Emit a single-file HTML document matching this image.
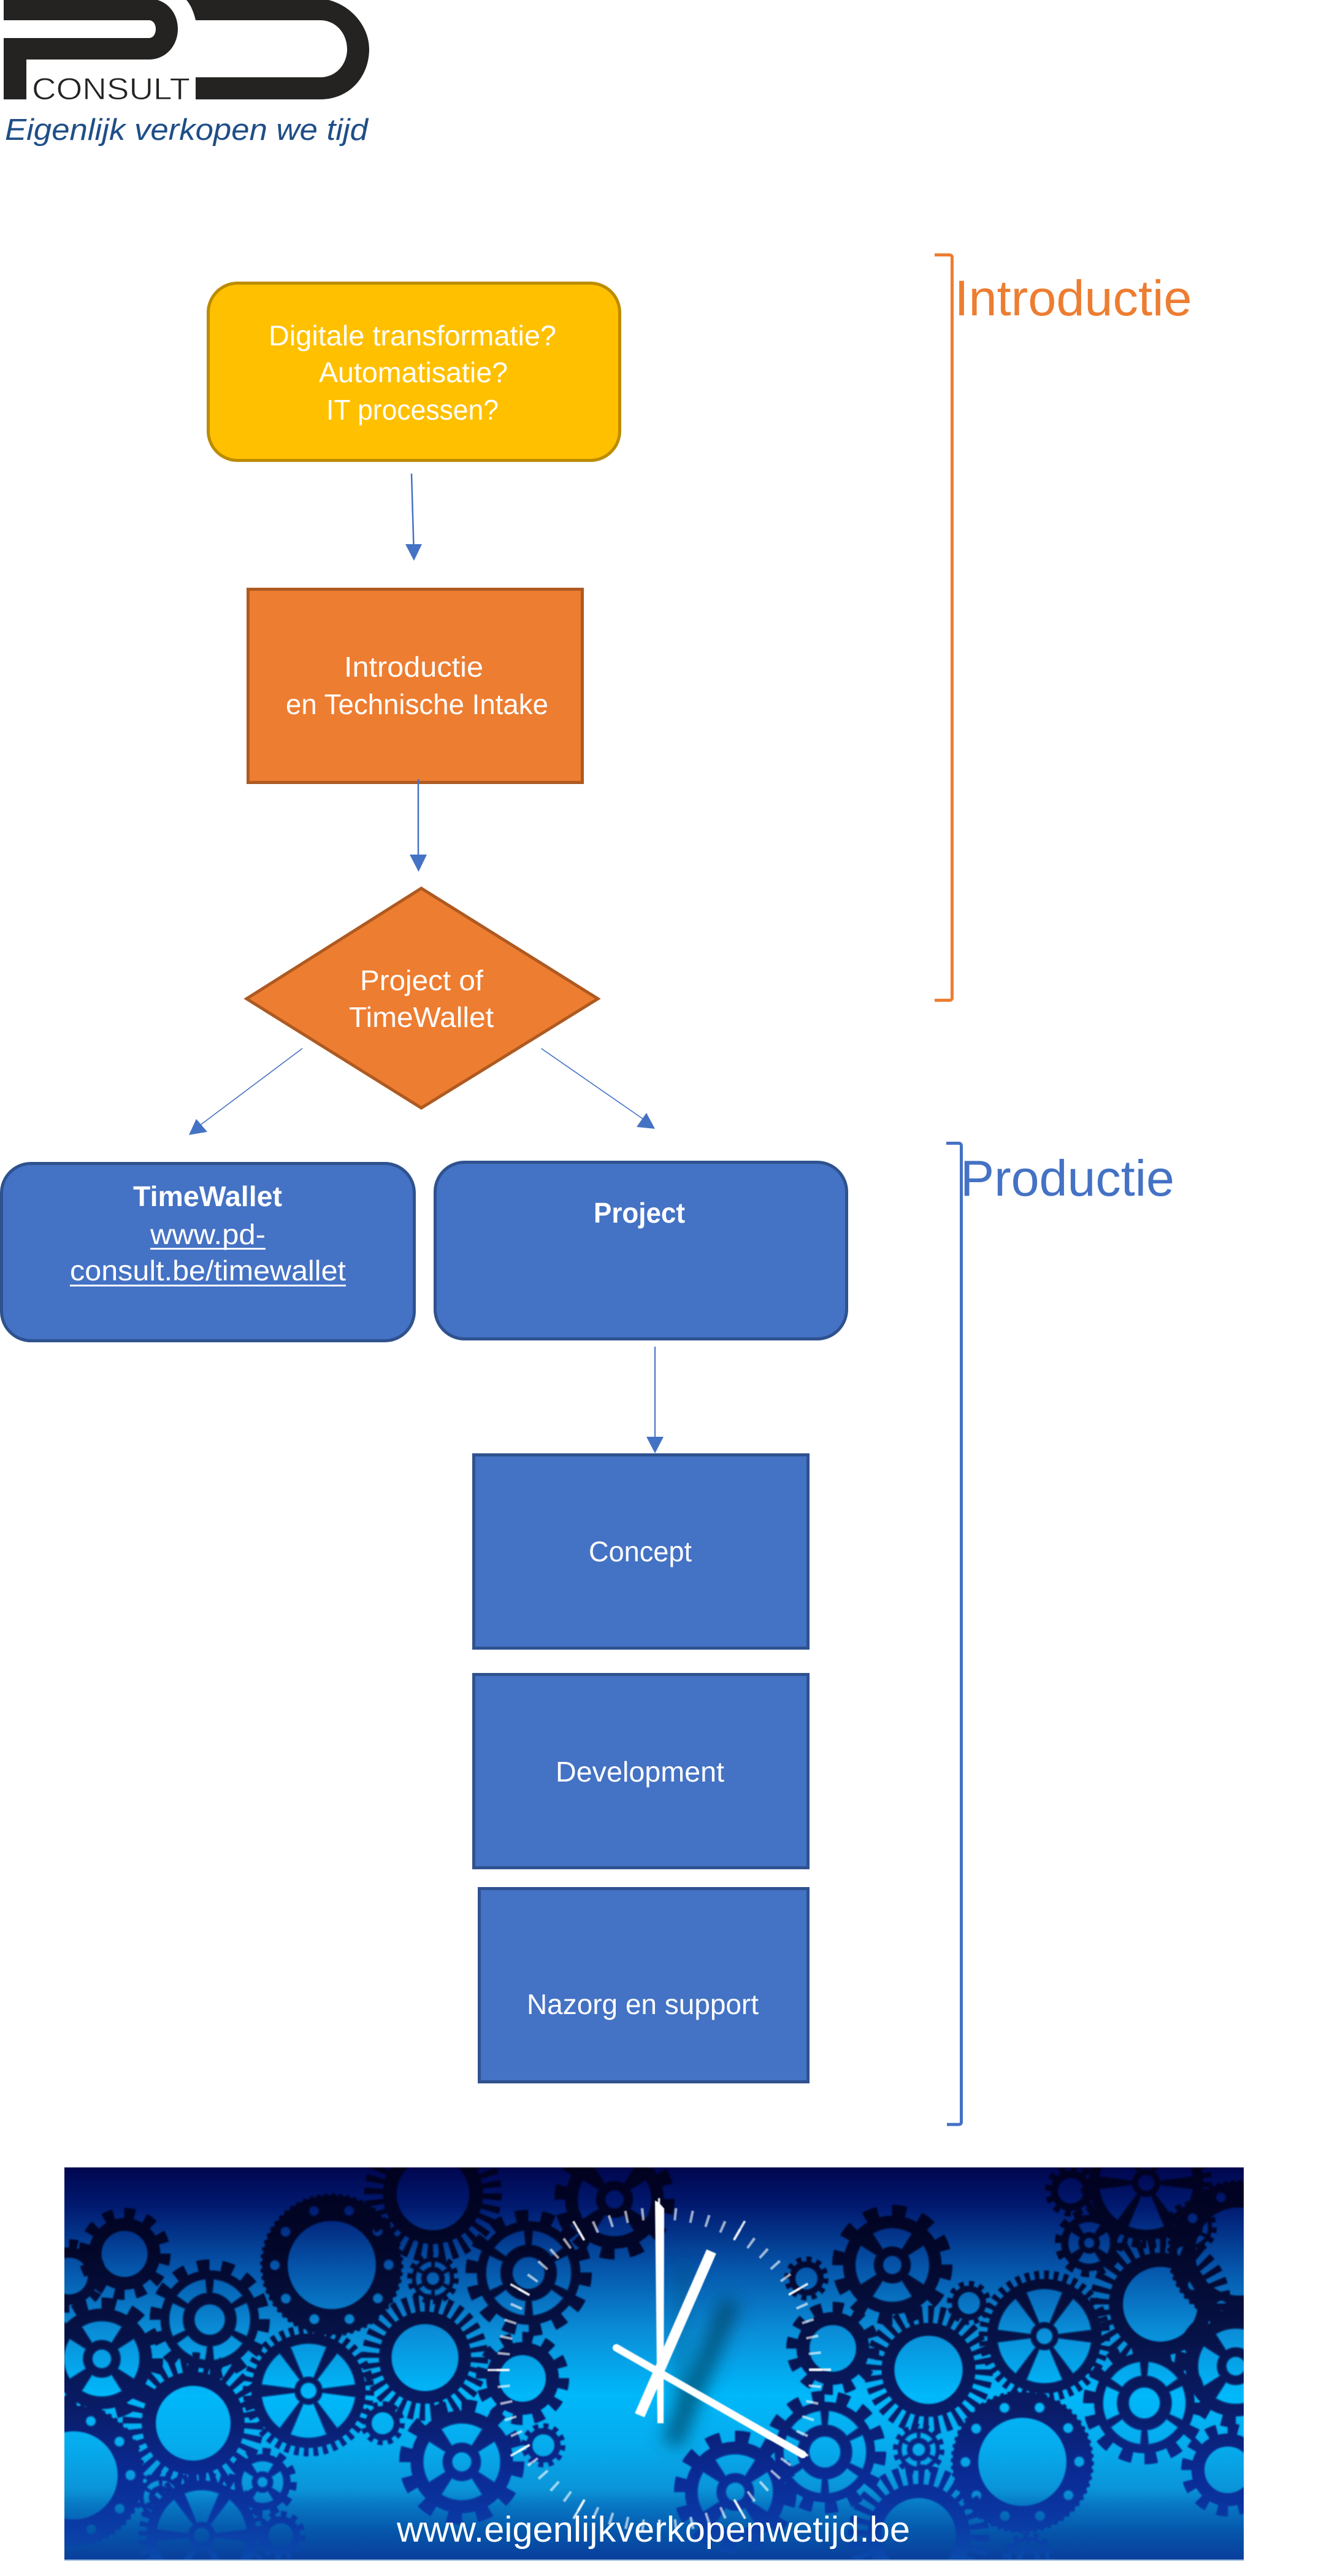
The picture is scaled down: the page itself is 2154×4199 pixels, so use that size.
<!DOCTYPE html>
<html lang="nl">
<head>
<meta charset="utf-8">
<title>PD Consult</title>
<style>
html,body{margin:0;padding:0;background:#fff;width:2154px;height:4199px;overflow:hidden}
svg{display:block}
text{font-family:"Liberation Sans",Arial,sans-serif}
.n{fill:#fff;font-size:46px}
</style>
</head>
<body>
<svg xmlns="http://www.w3.org/2000/svg" width="2154" height="4199" viewBox="0 0 2154 4199">
<defs>
  <linearGradient id="bg" gradientUnits="userSpaceOnUse" x1="0" y1="3533" x2="0" y2="4173">
    <stop offset="0" stop-color="#00064f"/>
    <stop offset=".1" stop-color="#011a70"/>
    <stop offset=".25" stop-color="#0553a8"/>
    <stop offset=".42" stop-color="#0a8ed8"/>
    <stop offset=".58" stop-color="#00b8fa"/>
    <stop offset=".72" stop-color="#06aaec"/>
    <stop offset=".82" stop-color="#0a94d8"/>
    <stop offset=".86" stop-color="#0777c4"/>
    <stop offset=".93" stop-color="#0555aa"/>
    <stop offset="1" stop-color="#0a3e9c"/>
  </linearGradient>
  <linearGradient id="gc" gradientUnits="userSpaceOnUse" x1="0" y1="3533" x2="0" y2="4173">
    <stop offset="0" stop-color="#01011f"/>
    <stop offset=".2" stop-color="#020628"/>
    <stop offset=".42" stop-color="#061246"/>
    <stop offset=".62" stop-color="#0a1c68"/>
    <stop offset=".78" stop-color="#0a2a94"/>
    <stop offset=".88" stop-color="#0a36a2"/>
    <stop offset="1" stop-color="#0b4aac"/>
  </linearGradient>
  <filter id="b1" x="-5%" y="-5%" width="110%" height="110%"><feGaussianBlur stdDeviation="1"/></filter>
  <filter id="b2" x="-60%" y="-60%" width="220%" height="220%"><feGaussianBlur stdDeviation="14"/></filter>
  <filter id="b3" x="-5%" y="-5%" width="110%" height="110%"><feGaussianBlur stdDeviation=".7"/></filter>

  <g id="gA" fill="none" stroke="#fff">
    <circle r="64" stroke-width="28"/>
    <circle r="88" stroke-width="24" pathLength="24" stroke-dasharray="1 1"/>
  </g>
  <g id="gL" fill="none" stroke="#fff">
    <circle r="63" stroke-width="20"/>
    <circle r="85" stroke-width="30" pathLength="64" stroke-dasharray="1 1"/>
  </g>
  <g id="gF" fill="none">
    <circle r="80" stroke="#fff" stroke-width="36"/>
    <circle r="98" stroke="#fff" stroke-width="5" pathLength="120" stroke-dasharray="1 1"/>
    <circle r="80" stroke="#000" stroke-width="15" stroke-linecap="round" pathLength="10" stroke-dasharray="0 1"/>
  </g>
  <g id="gS" fill="none">
    <circle r="41" stroke="#fff" stroke-width="82"/>
    <circle r="90" stroke="#fff" stroke-width="20" pathLength="28" stroke-dasharray="1 1"/>
    <circle r="56" stroke="#000" stroke-width="24" pathLength="6" stroke-dasharray=".82 .18" transform="rotate(-24.6)"/>
    <circle r="26" fill="#000"/>
  </g>
  <g id="gX" fill="none">
    <circle r="41" stroke="#fff" stroke-width="82"/>
    <circle r="90" stroke="#fff" stroke-width="20" pathLength="24" stroke-dasharray="1 1"/>
    <circle r="46" stroke="#000" stroke-width="32" pathLength="4" stroke-dasharray=".72 .28" transform="rotate(-32.4)"/>
    <circle r="16" fill="#000"/>
  </g>
  <g id="gP" fill="none">
    <circle r="44" stroke="#fff" stroke-width="88"/>
    <circle r="93" stroke="#fff" stroke-width="16" pathLength="80" stroke-dasharray="1 1"/>
    <circle r="47" stroke="#000" stroke-width="52" pathLength="6" stroke-dasharray=".76 .24" transform="rotate(7.2)"/>
    <circle r="13" fill="#000"/>
  </g>

  <mask id="gm" maskUnits="userSpaceOnUse" x="105" y="3533" width="1923" height="640">
    <rect x="105" y="3533" width="1923" height="640" fill="#000"/>
    <g filter="url(#b1)">
      <use href="#gA" transform="translate(203 3674) scale(.75)"/>
      <use href="#gF" transform="translate(541 3692) scale(1.16)"/>
      <use href="#gL" transform="translate(706 3576) scale(1.12)"/>
      <use href="#gS" transform="translate(706 3714) scale(.42)"/>
      <use href="#gS" transform="translate(342 3781) scale(.98)"/>
      <use href="#gX" transform="translate(1002 3585) scale(.98)"/>
      <use href="#gS" transform="translate(862 3705) scale(1.03)"/>
      <use href="#gX" transform="translate(166 3845) scale(1)"/>
      <use href="#gA" transform="translate(113 3710) scale(.6)"/>
      <use href="#gL" transform="translate(693 3843) scale(1.03)"/>
      <use href="#gL" transform="translate(315 3950) scale(1.15)"/>
      <use href="#gP" transform="translate(503 3897) scale(1.06)"/>
      <use href="#gA" transform="translate(852 3877) scale(.76)"/>
      <use href="#gA" transform="translate(624 3950) scale(.36)"/>
      <use href="#gX" transform="translate(753 4013) scale(1.02)"/>
      <use href="#gA" transform="translate(886 3986) scale(.36)"/>
      <use href="#gX" transform="translate(428 4046) scale(.56)"/>
      <use href="#gS" transform="translate(262 4071) scale(.42)"/>
      <use href="#gF" transform="translate(120 4035) scale(1.16)"/>
      <use href="#gP" transform="translate(329 4133) scale(1.02)"/>
      <use href="#gA" transform="translate(458 4133) scale(.4)"/>

      <use href="#gP" transform="translate(1869 3558) scale(1.06)"/>
      <use href="#gA" transform="translate(1746 3571) scale(.42)"/>
      <use href="#gX" transform="translate(1776 3656) scale(.56)"/>
      <use href="#gS" transform="translate(1942 3631) scale(.42)"/>
      <use href="#gF" transform="translate(2020 3670) scale(1.16)"/>
      <use href="#gX" transform="translate(1455 3692) scale(.98)"/>
      <use href="#gA" transform="translate(1315 3714) scale(.36)"/>
      <use href="#gA" transform="translate(1358 3828) scale(.76)"/>
      <use href="#gA" transform="translate(1580 3754) scale(.36)"/>
      <use href="#gL" transform="translate(1892 3756) scale(1.15)"/>
      <use href="#gL" transform="translate(1514 3863) scale(1.05)"/>
      <use href="#gP" transform="translate(1703 3808) scale(1.06)"/>
      <use href="#gX" transform="translate(2015 3857) scale(1)"/>
      <use href="#gS" transform="translate(1866 3917) scale(1)"/>
      <use href="#gA" transform="translate(2002 4026) scale(.76)"/>
      <use href="#gS" transform="translate(1345 3997) scale(1)"/>
      <use href="#gS" transform="translate(1498 3993) scale(.42)"/>
      <use href="#gF" transform="translate(1667 4013) scale(1.16)"/>
      <use href="#gX" transform="translate(1199 4062) scale(1)"/>
      <use href="#gL" transform="translate(1498 4133) scale(1.15)"/>
      <use href="#gS" transform="translate(1677 4170) scale(.42)"/>
    </g>
  </mask>
</defs>

<rect width="2154" height="4199" fill="#fff"/>

<!-- Logo -->
<path fill="#242321" d="M6 0H257C277 6 290 25 290 47C290 75 270 97 243 97H43V162H6V62H243C250 62 254 55 254 47C254 40 250 33 243 33H6Z"/>
<path fill="#242321" d="M304 0H536C575 10 602 45 602 80C602 125 570 162 522 162H319V126H522C548 126 566 105 566 80C566 55 548 33 522 33H319C316 20 311 8 304 0Z"/>
<text x="52" y="162" font-size="50" fill="#242321" stroke="#fff" stroke-width=".9" paint-order="fill" textLength="258" lengthAdjust="spacingAndGlyphs">CONSULT</text>
<text x="8" y="228" font-size="49" font-style="italic" fill="#1f4e87" textLength="592" lengthAdjust="spacingAndGlyphs">Eigenlijk verkopen we tijd</text>

<!-- Brackets and section labels -->
<path d="M1524 415.5H1548Q1552.5 415.5 1552.5 420V1626Q1552.5 1630.5 1548 1630.5H1524" fill="none" stroke="#ed7d31" stroke-width="5"/>
<text x="1556.5" y="514" font-size="82" fill="#ed7d31" textLength="387" lengthAdjust="spacingAndGlyphs">Introductie</text>
<path d="M1543 1863.5H1563Q1567.5 1863.5 1567.5 1868V3459Q1567.5 3463 1563 3463H1544" fill="none" stroke="#4472c4" stroke-width="5"/>
<text x="1566" y="1949" font-size="83" fill="#4472c4" textLength="349" lengthAdjust="spacingAndGlyphs">Productie</text>

<!-- Yellow start -->
<rect x="339.5" y="461.5" width="671" height="289" rx="48" ry="48" fill="#ffc000" stroke="#bc8c00" stroke-width="5"/>
<text class="n" x="438" y="563" textLength="469" lengthAdjust="spacingAndGlyphs">Digitale transformatie?</text>
<text class="n" x="520" y="623" textLength="308" lengthAdjust="spacingAndGlyphs">Automatisatie?</text>
<text class="n" x="532" y="684" textLength="281" lengthAdjust="spacingAndGlyphs">IT processen?</text>

<!-- Arrow 1 -->
<line x1="671" y1="772" x2="674.5" y2="890" stroke="#4472c4" stroke-width="2.5"/>
<polygon points="661,887 688,887 675,914" fill="#4472c4"/>

<!-- Orange rectangle -->
<rect x="404.5" y="960.5" width="545" height="315" fill="#ed7d31" stroke="#ae5a21" stroke-width="5"/>
<text class="n" x="561" y="1103" textLength="227" lengthAdjust="spacingAndGlyphs">Introductie</text>
<text class="n" x="466" y="1164" textLength="428" lengthAdjust="spacingAndGlyphs">en Technische Intake</text>

<!-- Arrow 2 -->
<line x1="682" y1="1270" x2="682" y2="1396" stroke="#4472c4" stroke-width="2.5"/>
<polygon points="668,1393 696,1393 682.5,1421" fill="#4472c4"/>

<!-- Diamond -->
<polygon points="687,1448 975,1628 687,1806 402,1628" fill="#ed7d31" stroke="#ae5a21" stroke-width="5" stroke-linejoin="miter"/>
<text class="n" x="587" y="1614" textLength="201" lengthAdjust="spacingAndGlyphs">Project of</text>
<text class="n" x="569" y="1674" textLength="236" lengthAdjust="spacingAndGlyphs">TimeWallet</text>

<!-- Diamond arrows -->
<line x1="493" y1="1709" x2="325" y2="1835" stroke="#4472c4" stroke-width="1.6"/>
<polygon points="308,1850 320,1824 338,1845" fill="#4472c4"/>
<line x1="882.5" y1="1709" x2="1050" y2="1825" stroke="#4472c4" stroke-width="1.6"/>
<polygon points="1068,1840 1038,1837 1054,1814" fill="#4472c4"/>

<!-- TimeWallet -->
<rect x="2.5" y="1896.5" width="673" height="289" rx="48" ry="48" fill="#4472c4" stroke="#2f528f" stroke-width="5"/>
<text class="n" x="217" y="1966" font-weight="700" textLength="243" lengthAdjust="spacingAndGlyphs">TimeWallet</text>
<text class="n" x="245" y="2028" textLength="188" lengthAdjust="spacingAndGlyphs">www.pd-</text>
<rect x="245" y="2034" width="188" height="3" fill="#fff"/>
<text class="n" x="114" y="2087" textLength="450" lengthAdjust="spacingAndGlyphs">consult.be/timewallet</text>
<rect x="114" y="2094" width="450" height="3" fill="#fff"/>

<!-- Project -->
<rect x="709.5" y="1894.5" width="671" height="288" rx="48" ry="48" fill="#4472c4" stroke="#2f528f" stroke-width="5"/>
<text class="n" x="968" y="1993" font-weight="700" textLength="149" lengthAdjust="spacingAndGlyphs">Project</text>

<!-- Arrow down -->
<line x1="1068" y1="2195" x2="1068" y2="2345" stroke="#4472c4" stroke-width="2"/>
<polygon points="1054,2342 1082,2342 1068,2369" fill="#4472c4"/>

<!-- Stack -->
<rect x="772.5" y="2371.5" width="545" height="315" fill="#4472c4" stroke="#2f528f" stroke-width="5"/>
<text class="n" x="960" y="2545" textLength="168" lengthAdjust="spacingAndGlyphs">Concept</text>
<rect x="772.5" y="2729.5" width="545" height="315" fill="#4472c4" stroke="#2f528f" stroke-width="5"/>
<text class="n" x="906" y="2904" textLength="275" lengthAdjust="spacingAndGlyphs">Development</text>
<rect x="781.5" y="3078.5" width="536" height="315" fill="#4472c4" stroke="#2f528f" stroke-width="5"/>
<text class="n" x="859" y="3283" textLength="378" lengthAdjust="spacingAndGlyphs">Nazorg en support</text>

<!-- Banner -->
<rect x="105" y="3533" width="1923" height="640" fill="url(#bg)"/>
<rect x="105" y="3533" width="1923" height="640" fill="url(#gc)" mask="url(#gm)"/>
<g filter="url(#b2)" fill="none" stroke="#00405f">
  <line x1="1192" y1="3750" x2="1095" y2="3985" stroke-width="34" opacity=".7"/>
  <line x1="1115" y1="3690" x2="1108" y2="3930" stroke-width="20" opacity=".35"/>
</g>
<g filter="url(#b3)">
  <g fill="none" stroke="#fff">
    <circle cx="1075" cy="3863" r="255" stroke-width="20" pathLength="60" stroke-dasharray=".16 .84" stroke-dashoffset=".08" opacity=".62"/>
    <circle cx="1075" cy="3863" r="262" stroke-width="36" pathLength="12" stroke-dasharray=".026 .974" stroke-dashoffset=".013" opacity=".85"/>
  </g>
  <polygon points="1068,3587 1074,3590 1083,3600 1082,3950 1072,3950" fill="#fff"/>
  <line x1="1160" y1="3670" x2="1043" y2="3937" stroke="#fff" stroke-width="17"/>
  <line x1="1005" y1="3827" x2="1309" y2="4001" stroke="#fff" stroke-width="12" stroke-linecap="round"/>
</g>
<text x="647" y="4143" font-size="58" fill="#fff" textLength="837" lengthAdjust="spacingAndGlyphs">www.eigenlijkverkopenwetijd.be</text>
<rect x="105" y="4172" width="1923" height="2" fill="#8fb0d8"/>
</svg>
</body>
</html>
